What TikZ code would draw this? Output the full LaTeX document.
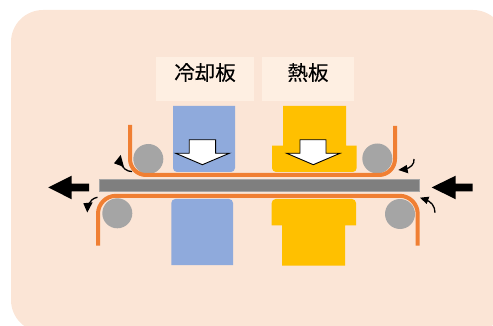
\documentclass[tikz,border=0pt]{standalone}
\usepackage{fontspec}
\newfontfamily\cjkfont[FakeBold=0.35]{Noto Sans CJK JP}
\definecolor{panelc}{HTML}{FBE5D6}
\definecolor{labelc}{HTML}{FEEFE2}
\definecolor{bluec}{HTML}{8FAADC}
\definecolor{yellowc}{HTML}{FFC000}
\definecolor{orangec}{HTML}{F07F33}
\definecolor{rollerc}{HTML}{A5A5A5}
\definecolor{barc}{HTML}{7F7F7F}
\tikzset{
  x=1pt,y=-1pt,
  labelbox/.style={fill=labelc,draw=none,minimum height=43.4pt,inner sep=0pt},
  labeltext/.style={font=\cjkfont\fontsize{20.5}{24}\selectfont,text=black,inner sep=0pt},
  sheet/.style={draw=orangec,line width=4pt},
  roller/.style={fill=rollerc,draw=none},
  pressarrow/.style={fill=white,draw=black,line width=0.9pt,line join=miter},
  feedarrow/.style={fill=black,draw=none},
  turnline/.style={draw=black,line width=1.3pt},
}
\begin{document}
\begin{tikzpicture}
\useasboundingbox (0,0) rectangle (493,326);
\begin{scope}
\clip (0,0) rectangle (493,326);
\fill[panelc,rounded corners=32pt] (11,10) rectangle (505,332);
\end{scope}
% label boxes
\node[labelbox,minimum width=98pt] (coldbox) at (205,79) {};
\node[labelbox,minimum width=91.7pt] (hotbox) at (307.9,79) {};
\node[labeltext] (coldlabel) at (205,72.5) {冷却板};
\node[labeltext] (hotlabel) at (308,72.5) {熱板};
% blue plates
\fill[bluec,rounded corners=4pt] (173,106) [sharp corners] -- (235,106) [rounded corners=4pt] -- (235,172) -- (173,172) [sharp corners] -- cycle;
\fill[bluec,rounded corners=4pt] (171.3,265) [sharp corners] -- (171.3,265) [rounded corners=4pt] -- (171.3,199) -- (233,199) [sharp corners] -- (233,265) -- cycle;
% yellow plates
\fill[yellowc] (283,106) -- (346,106) -- (346,145.7) -- (356.7,145.7) [rounded corners=4pt] -- (356.7,172) -- (272,172) [sharp corners] -- (272,145.7) -- (283,145.7) -- cycle;
\fill[yellowc] (282,265.7) -- (282,225.3) -- (271.7,225.3) [rounded corners=4pt] -- (271.7,199) -- (356,199) [sharp corners] -- (356,225.3) -- (345,225.3) -- (345,265.7) -- cycle;
% rollers
\fill[roller] (148.3,159) circle (15);
\fill[roller] (377.3,158.5) circle (15);
\fill[roller] (117.3,213.3) circle (15);
\fill[roller] (400,214) circle (15);
% bar
\fill[barc,draw=rollerc,line width=0.6pt] (99.7,179.4) rectangle (419.3,191.6);
% sheets
\draw[sheet,rounded corners=16pt] (130,125) -- (130,175) -- (395,175) -- (395,126);
\draw[sheet,rounded corners=18pt] (98,245.5) -- (98,195.8) -- (417.7,195.8) -- (417.7,245.7);
% press arrows
\draw[pressarrow] (189.2,139.8) -- (215.6,139.8) -- (215.6,153.3) -- (229.3,153.3) -- (202.4,164.7) -- (175.7,153.3) -- (189.2,153.3) -- cycle;
\draw[pressarrow] (300,139.8) -- (326,139.8) -- (326,153.3) -- (340,153.3) -- (313.3,164.7) -- (286.7,153.3) -- (300,153.3) -- cycle;
% feed arrows
\fill[feedarrow] (48.3,187.4) -- (71.7,175.7) -- (71.7,183.7) -- (89,183.7) -- (89,191.3) -- (71.7,191.3) -- (71.7,199.3) -- cycle;
\fill[feedarrow] (431.7,187.4) -- (455.7,175.7) -- (455.7,183.7) -- (472.7,183.7) -- (472.7,191.3) -- (455.7,191.3) -- (455.7,199.3) -- cycle;
% turning arrows
\draw[turnline] (132,171.6) .. controls (127,171.6) and (122,168) .. (120.5,162);
\fill[feedarrow] (120.7,155) -- (124,167) -- (114,163.3) -- cycle;
\draw[turnline] (97.5,197.3) .. controls (93,198) and (89.5,201) .. (88.8,206);
\fill[feedarrow] (87.3,212.5) -- (83.3,203.3) -- (92.7,202.3) -- cycle;
\draw[turnline] (414,159) .. controls (414.5,164) and (411,168) .. (404,169.5);
\fill[feedarrow] (398.3,170) -- (406.7,165) -- (408.3,173.3) -- cycle;
\draw[turnline] (435,212.7) .. controls (435,206) and (431,201) .. (424.5,199.5);
\fill[feedarrow] (420,197.7) -- (429.3,196.7) -- (426.7,204) -- cycle;
\end{tikzpicture}
\end{document}
